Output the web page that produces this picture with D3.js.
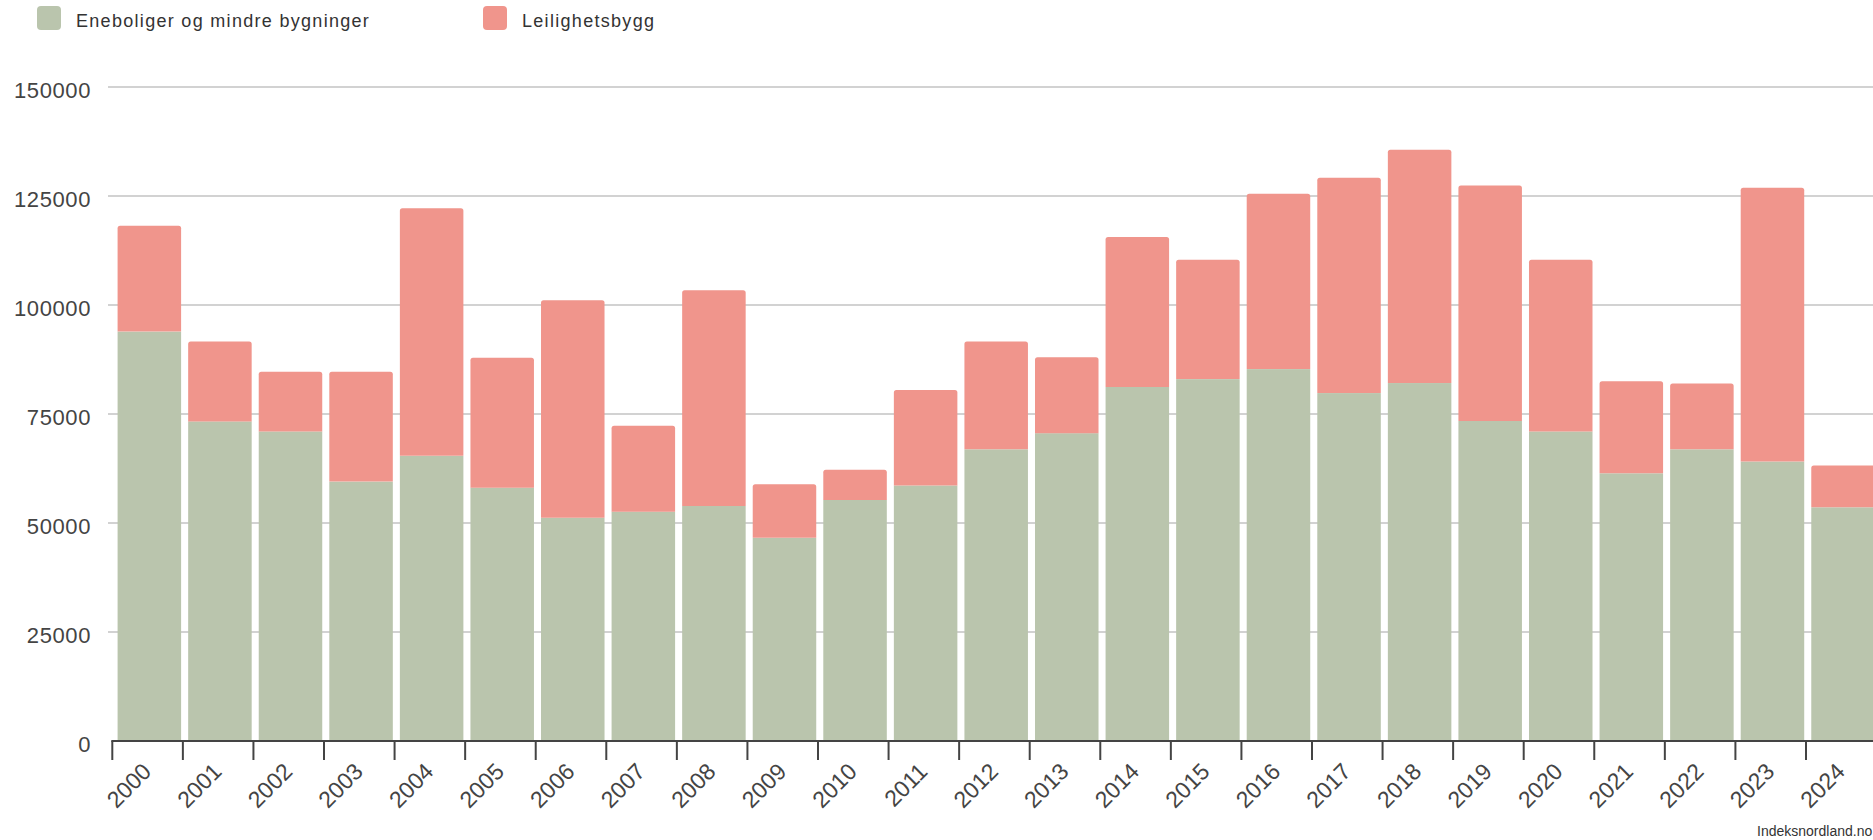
<!DOCTYPE html>
<html>
<head>
<meta charset="utf-8">
<script src="https://cdn.jsdelivr.net/npm/d3@7"></script>
<style>
  html, body { margin: 0; padding: 0; background: #fff; overflow: hidden; }
  svg { display: block; font-family: "Liberation Sans", Arial, sans-serif; }
</style>
</head>
<body>
<svg id="chart" width="1873" height="840"></svg>
<script>
// Igangsatte boliger per år (bruksareal), fordelt på bygningstype
const years = ["2000","2001","2002","2003","2004","2005","2006","2007","2008","2009",
               "2010","2011","2012","2013","2014","2015","2016","2017","2018","2019",
               "2020","2021","2022","2023","2024"];
const eneboliger = [93900, 73300, 71000, 59500, 65400, 58100, 51200, 52600, 53900, 46600,
                    55300, 58600, 66900, 70600, 81200, 83000, 85300, 79800, 82100, 73400,
                    71000, 61400, 66900, 64100, 53600];
const leilighetsbygg = [24300, 18300, 13700, 25200, 56800, 29800, 49900, 19700, 49500, 12300,
                        6900, 21900, 24700, 17400, 34400, 27400, 40200, 49400, 53500, 54000,
                        39400, 21100, 15100, 62800, 9600];
const yTicks = [0, 25000, 50000, 75000, 100000, 125000, 150000];
const seriesNames = ["Eneboliger og mindre bygninger", "Leilighetsbygg"];
const seriesColors = ["#bac5ad", "#f0958c"];
const source = "Indeksnordland.no";

const svg = d3.select("#chart");

const step = 70.57;
const x = d3.scaleBand()
  .domain(years)
  .range([112.3, 112.3 + step * years.length])
  .padding(0);

const y = d3.scaleLinear().domain([0, 150000]).range([741, 87]);

// gridlines
svg.append("g")
  .selectAll("line")
  .data(yTicks.filter(d => d > 0))
  .join("line")
  .attr("x1", 108).attr("x2", 1873)
  .attr("y1", d => y(d)).attr("y2", d => y(d))
  .attr("stroke", "#d2d2d2")
  .attr("stroke-width", 2);

// y labels
svg.append("g")
  .selectAll("text")
  .data(yTicks)
  .join("text")
  .attr("x", 91)
  .attr("y", d => y(d) + 10.5)
  .attr("text-anchor", "end")
  .attr("font-size", 22)
  .attr("letter-spacing", 0.6)
  .attr("fill", "#444")
  .text(d => d);

const rows = years.map((yr, i) => ({ year: yr, a: eneboliger[i], b: leilighetsbygg[i] }));
const barOff = step * 0.075;
const barW = x.bandwidth() * 0.9;

// bottom segment
svg.append("g")
  .selectAll("rect")
  .data(rows)
  .join("rect")
  .attr("x", d => x(d.year) + barOff)
  .attr("width", barW)
  .attr("y", d => y(d.a))
  .attr("height", d => y(0) - y(d.a))
  .attr("fill", seriesColors[0]);

// top segment with rounded top corners
function topBar(x0, y0, w, h, r) {
  return `M${x0},${y0 + h}V${y0 + r}Q${x0},${y0} ${x0 + r},${y0}H${x0 + w - r}Q${x0 + w},${y0} ${x0 + w},${y0 + r}V${y0 + h}Z`;
}
svg.append("g")
  .selectAll("path")
  .data(rows)
  .join("path")
  .attr("d", d => {
    const yTop = y(d.a + d.b), yBot = y(d.a);
    return topBar(x(d.year) + barOff, yTop, barW, yBot - yTop, 2.5);
  })
  .attr("fill", seriesColors[1]);

// x axis
const axis = svg.append("g");
axis.append("line")
  .attr("x1", 111.3).attr("x2", 1873)
  .attr("y1", 741).attr("y2", 741)
  .attr("stroke", "#444").attr("stroke-width", 2);
axis.selectAll("line.tick")
  .data(years)
  .join("line")
  .attr("class", "tick")
  .attr("x1", d => x(d)).attr("x2", d => x(d))
  .attr("y1", 741).attr("y2", 760)
  .attr("stroke", "#444").attr("stroke-width", 2);
axis.selectAll("text")
  .data(years)
  .join("text")
  .attr("transform", d => `translate(${x(d) + x.bandwidth() / 2 + 5},773) rotate(-45)`)
  .attr("text-anchor", "end")
  .attr("font-size", 23)
  .attr("fill", "#444")
  .text(d => d);

// legend
const legend = svg.append("g");
const legendX = [37, 483];
seriesNames.forEach((name, i) => {
  legend.append("rect")
    .attr("x", legendX[i]).attr("y", 6)
    .attr("width", 24).attr("height", 24)
    .attr("rx", 4)
    .attr("fill", seriesColors[i]);
  legend.append("text")
    .attr("x", legendX[i] + 39).attr("y", 26.5)
    .attr("font-size", 18)
    .attr("letter-spacing", 1.3)
    .attr("fill", "#333")
    .text(name);
});

// source
svg.append("text")
  .attr("x", 1757).attr("y", 836)
  .attr("font-size", 14)
  .attr("fill", "#333")
  .text(source);
</script>
</body>
</html>
